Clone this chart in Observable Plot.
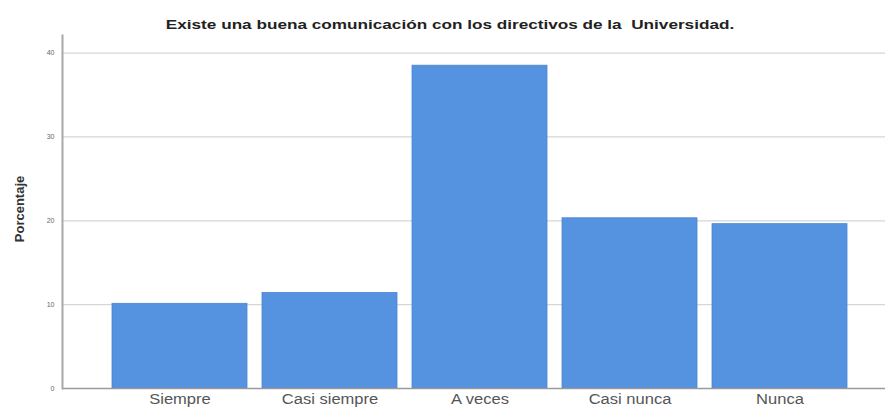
<!DOCTYPE html>
<html>
<head>
<meta charset="utf-8">
<script src="https://cdn.jsdelivr.net/npm/d3@7"></script>
<script src="https://cdn.jsdelivr.net/npm/@observablehq/plot@0.6"></script>
<style>
  html, body { margin: 0; padding: 0; background: #fff; }
</style>
</head>
<body>
<div id="chart"></div>
<script>
const categories = ["Siempre", "Casi siempre", "A veces", "Casi nunca", "Nunca"];
const values = [10.1, 11.4, 38.5, 20.3, 19.6];
const yTicks = [0, 10, 20, 30, 40];
const title = "Existe una buena comunicación con los directivos de la  Universidad.";
const yLabel = "Porcentaje";

const data = categories.map((c, i) => ({category: c, value: values[i]}));

const chart = Plot.plot({
  width: 885,
  height: 409,
  marginLeft: 62,
  marginRight: 0,
  marginTop: 35,
  marginBottom: 21,
  style: {fontFamily: "Liberation Sans, Arial, sans-serif", background: "#fff"},
  x: {domain: categories, range: [104.5, 854.5], paddingInner: 0.1, paddingOuter: 0.05},
  y: {domain: [0, 42.1]},
  marks: [
    Plot.ruleY(yTicks.filter(d => d > 0), {stroke: "#d6d6d6", strokeWidth: 1.2}),
    Plot.barY(data, {x: "category", y: "value", fill: "#5592df", stroke: "#4a86d2", strokeWidth: 0.8}),
    Plot.ruleY([0], {stroke: "#9a9a9a", strokeWidth: 1.5}),
    Plot.frame({anchor: "left", stroke: "#a8a8a8", strokeWidth: 2}),
    Plot.axisY({ticks: yTicks, tickSize: 0, tickPadding: 8, fontSize: 7, label: null, fill: "#666"}),
    Plot.axisX({tickSize: 0, tickPadding: 6, fontSize: 14, label: null, fill: "#555"}),
    Plot.text([yLabel], {frameAnchor: "left", textAnchor: "middle", rotate: -90, dx: -43, dy: -3, fontWeight: "bold", fontSize: 13, fill: "#333"}),
    Plot.text([title], {frameAnchor: "top", dx: -24, dy: -16, fontWeight: "bold", fontSize: 13, fill: "#222"})
  ]
});
document.getElementById("chart").append(chart);
function stretchEl(el, k) {
  const len = el.getComputedTextLength();
  el.setAttribute("textLength", (len * k).toFixed(1));
  el.setAttribute("lengthAdjust", "spacingAndGlyphs");
}
d3.select(chart).selectAll("g[aria-label='x-axis tick label'] text").each(function() { stretchEl(this, 1.18); });
d3.select(chart).selectAll("text").filter(function() { return this.textContent === title; }).each(function() { stretchEl(this, 1.32); });
</script>
</body>
</html>
